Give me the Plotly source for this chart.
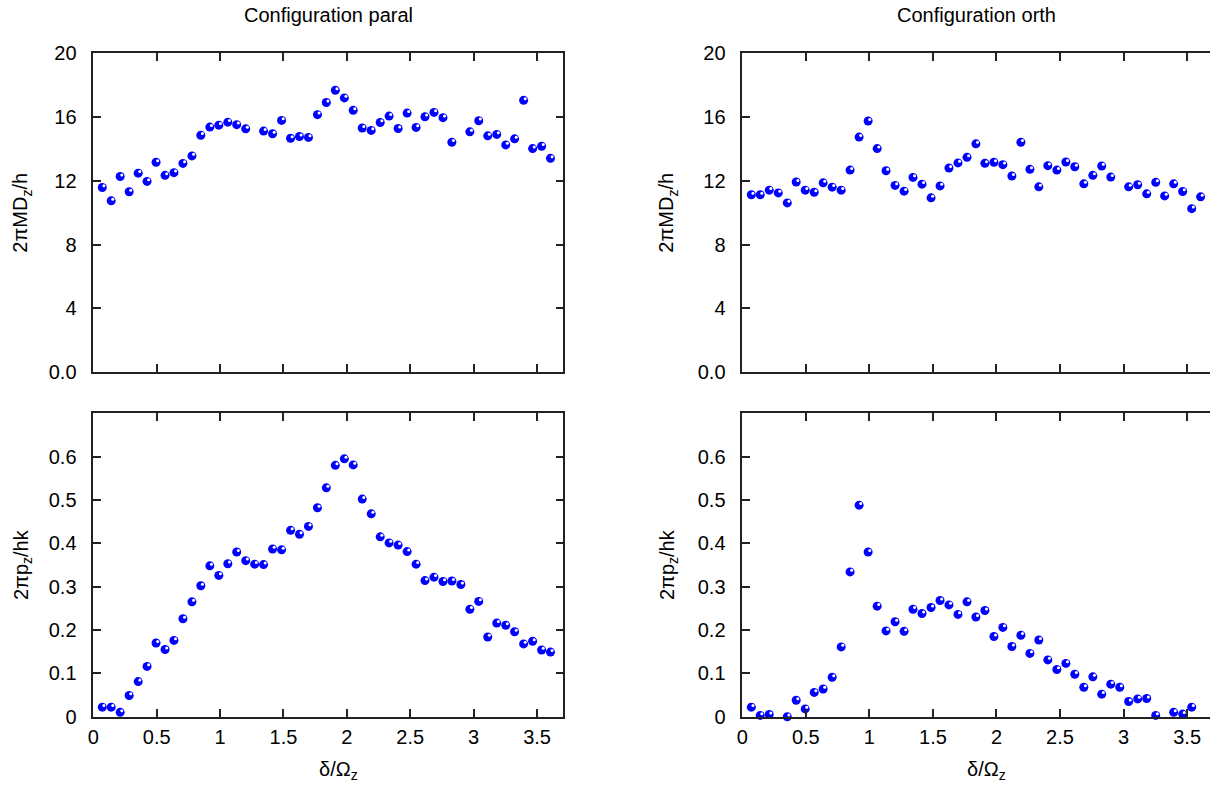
import plotly.graph_objects as go

# delta / Omega_z
x = [0.071, 0.141, 0.212, 0.283, 0.354, 0.424, 0.495, 0.566, 0.636, 0.707,
     0.778, 0.848, 0.919, 0.990, 1.061, 1.131, 1.202, 1.273, 1.343, 1.414,
     1.485, 1.556, 1.626, 1.697, 1.768, 1.838, 1.909, 1.980, 2.050, 2.121,
     2.192, 2.263, 2.333, 2.404, 2.475, 2.546, 2.616, 2.687, 2.758, 2.828,
     2.899, 2.970, 3.040, 3.111, 3.182, 3.253, 3.323, 3.394, 3.465, 3.536,
     3.606]

# 2piMD_z/h, configuration paral
md_paral = [11.58, 10.74, 12.27, 11.31, 12.48, 11.96, 13.16, 12.34, 12.51, 13.09,
            13.56, 14.86, 15.37, 15.49, 15.68, 15.52, 15.26, None, 15.12, 14.95,
            15.79, 14.67, 14.78, 14.72, 16.15, 16.91, 17.68, 17.20, 16.42, 15.31,
            15.16, 15.66, 16.06, 15.28, 16.25, 15.35, 16.02, 16.29, 15.96, 14.42,
            None, 15.07, 15.77, 14.82, 14.91, 14.25, 14.63, 17.05, 14.02, 14.17,
            13.41]

# 2pip_z/hk, configuration paral
p_paral = [0.022, 0.022, 0.010, 0.049, 0.081, 0.116, 0.170, 0.155, 0.176, 0.226,
           0.265, 0.302, 0.348, 0.326, 0.353, 0.380, 0.360, 0.352, 0.351, 0.387,
           0.385, 0.430, 0.421, 0.439, 0.482, 0.528, 0.580, 0.595, 0.581, 0.502,
           0.468, 0.415, 0.401, 0.396, 0.381, 0.352, 0.314, 0.322, 0.312, 0.313,
           0.305, 0.248, 0.266, 0.184, 0.216, 0.211, 0.196, 0.168, 0.174, 0.154,
           0.149]

# 2piMD_z/h, configuration orth
md_orth = [11.12, 11.12, 11.41, 11.24, 10.61, 11.92, 11.41, 11.28, 11.87, 11.60,
           11.41, 12.67, 14.74, 15.75, 14.02, 12.63, 11.71, 11.35, 12.21, 11.79,
           10.93, 11.68, 12.80, 13.12, 13.47, 14.32, 13.10, 13.16, 13.01, 12.30,
           14.42, 12.72, 11.62, 12.95, 12.67, 13.18, 12.88, 11.81, 12.34, 12.93,
           12.23, None, 11.62, 11.75, 11.18, 11.90, 11.05, 11.81, 11.33, 10.25,
           10.99]

# 2pip_z/hk, configuration orth
p_orth = [0.022, 0.003, 0.005, None, 0.000, 0.038, 0.018, 0.056, 0.064, 0.091,
          0.161, 0.334, 0.488, 0.380, 0.255, 0.198, 0.219, 0.197, 0.248, 0.238,
          0.252, 0.268, 0.258, 0.236, 0.265, 0.230, 0.245, 0.185, 0.206, 0.162,
          0.188, 0.146, 0.177, 0.131, 0.109, 0.123, 0.098, 0.068, 0.092, 0.052,
          0.075, 0.068, 0.035, 0.041, 0.042, 0.003, None, 0.010, 0.006, 0.022,
          None]

titles = ["Configuration paral", "Configuration orth"]
x_ticks = [0, 0.5, 1, 1.5, 2, 2.5, 3, 3.5]
x_ticktext = ["0", "0.5", "1", "1.5", "2", "2.5", "3", "3.5"]
md_ticks = [0, 4, 8, 12, 16, 20]
md_ticktext = ["0.0", "4", "8", "12", "16", "20"]
p_ticks = [0, 0.1, 0.2, 0.3, 0.4, 0.5, 0.6]
p_ticktext = ["0", "0.1", "0.2", "0.3", "0.4", "0.5", "0.6"]

W, H = 1210, 787
font = "Liberation Sans, Arial, sans-serif"
fs = 20
axcol = "#222222"

# pixel boxes of the four panels
left_x = [93.3 / W, 563.3 / W]
right_x = [742.3 / W, 1.0]
top_y = [1 - 372 / H, 1 - 53.3 / H]
bot_y = [1 - 716.7 / H, 1 - 413.3 / H]
xr_left = [0, 3.707]
xr_right = [0, 3.68]
yr_md = [0, 20]
yr_p = [0, 0.7]

panels = [
    (md_paral, left_x, top_y, xr_left, yr_md, True, False),
    (md_orth, right_x, top_y, xr_right, yr_md, False, False),
    (p_paral, left_x, bot_y, xr_left, yr_p, True, True),
    (p_orth, right_x, bot_y, xr_right, yr_p, False, True),
]

fig = go.Figure()
layout = dict(
    width=W, height=H,
    margin=dict(l=0, r=0, t=0, b=0, autoexpand=False),
    plot_bgcolor="rgba(0,0,0,0)", paper_bgcolor="white",
    showlegend=False,
    font=dict(family=font, size=fs, color="black"),
)

for i, (ys, xd, yd, xr, yr, mirror_y, labels_x) in enumerate(panels):
    n = i + 1
    sfx = "" if n == 1 else str(n)
    # main axes
    xa = dict(domain=xd, range=xr, anchor="y" + sfx, showgrid=False, zeroline=False,
              automargin=False,
              showline=True, linecolor=axcol, linewidth=1.5, mirror="allticks",
              ticks="inside", ticklen=8, tickwidth=1.5, tickcolor=axcol,
              tickvals=x_ticks, ticktext=x_ticktext, showticklabels=labels_x,
              ticklabelstandoff=2)
    is_md = yr == yr_md
    ya = dict(domain=yd, range=yr, anchor="x" + sfx, showgrid=False, zeroline=False,
              automargin=False,
              showline=True, linecolor=axcol, linewidth=1.5,
              mirror="allticks" if mirror_y else False,
              ticks="inside", ticklen=8, tickwidth=1.5, tickcolor=axcol,
              tickvals=md_ticks if is_md else p_ticks,
              ticktext=md_ticktext if is_md else p_ticktext,
              ticklabelstandoff=11)
    layout["xaxis" + sfx] = xa
    layout["yaxis" + sfx] = ya

    # hidden overlay axes, shifted by a pixel or two, for the highlight on each ball
    m = str(n + 4)
    px_x = (xd[1] - xd[0]) * W / (xr[1] - xr[0])
    px_y = (yd[1] - yd[0]) * H / (yr[1] - yr[0])
    dx = 1.6 / px_x
    dy = 1.6 / px_y
    layout["xaxis" + m] = dict(domain=xd, range=[xr[0] - dx, xr[1] - dx], overlaying="x" + sfx,
                               anchor="y" + m, visible=False, automargin=False)
    layout["yaxis" + m] = dict(domain=yd, range=[yr[0] - dy, yr[1] - dy], overlaying="y" + sfx,
                               anchor="x" + m, visible=False, automargin=False)

    fig.add_trace(go.Scatter(x=x, y=ys, mode="markers", xaxis="x" + sfx, yaxis="y" + sfx,
                             marker=dict(color="#0000ff", size=9, line=dict(width=0)),
                             cliponaxis=False))
    fig.add_trace(go.Scatter(x=x, y=ys, mode="markers", xaxis="x" + m, yaxis="y" + m,
                             marker=dict(color="white", size=3, line=dict(width=0)),
                             cliponaxis=False, hoverinfo="skip"))

ann = []
# panel titles
ann.append(dict(text=titles[0], x=(left_x[0] + left_x[1]) / 2, y=1 - 15 / H))
ann.append(dict(text=titles[1], x=(right_x[0] + right_x[1]) / 2, y=1 - 15 / H))
# x titles
ann.append(dict(text="δ/Ω<sub>z</sub>", x=338 / W, y=1 - 770 / H))
ann.append(dict(text="δ/Ω<sub>z</sub>", x=986 / W, y=1 - 770 / H))
for a in ann:
    a.update(xref="paper", yref="paper", showarrow=False, xanchor="center", yanchor="middle",
             font=dict(family=font, size=fs))
# y titles
for xp in [22 / W, 668 / W]:
    ann.append(dict(text="2πMD<sub>z</sub>/h", x=xp, y=(top_y[0] + top_y[1]) / 2,
                    xref="paper", yref="paper", showarrow=False, textangle=-90,
                    xanchor="center", yanchor="middle", font=dict(family=font, size=fs)))
    ann.append(dict(text="2πp<sub>z</sub>/hk", x=xp, y=(bot_y[0] + bot_y[1]) / 2,
                    xref="paper", yref="paper", showarrow=False, textangle=-90,
                    xanchor="center", yanchor="middle", font=dict(family=font, size=fs)))
layout["annotations"] = ann

fig.update_layout(layout)
# the page's default body margin would push the figure 8px right and down
fig.write_html("out.html", config={"displayModeBar": False},
               post_script="document.body.style.margin='0';")
